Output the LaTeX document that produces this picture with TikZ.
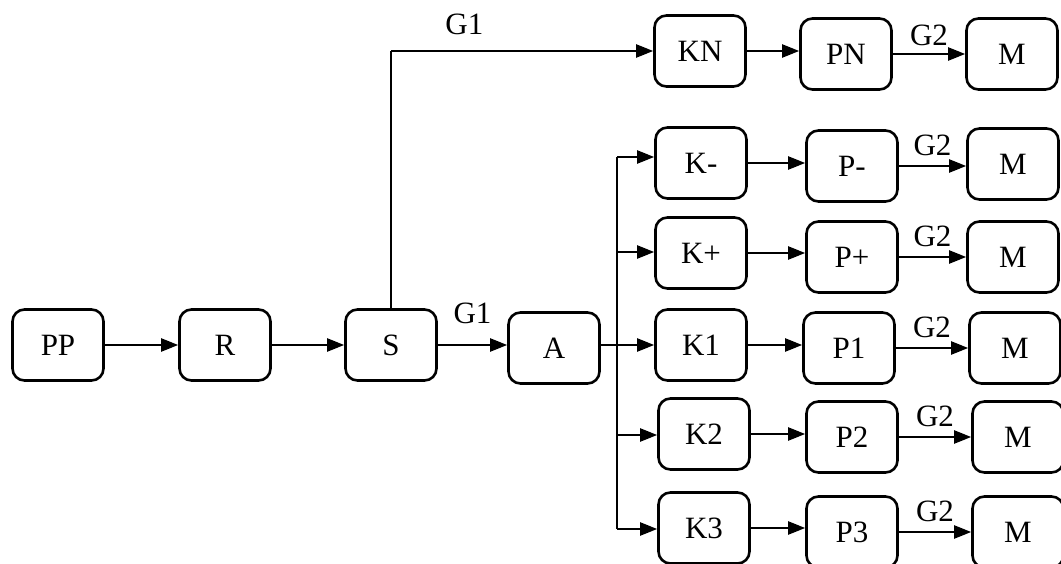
\documentclass[tikz,border=0pt]{standalone}
\usepackage{fontspec}
\setmainfont{Liberation Serif}
\usetikzlibrary{arrows.meta}
\tikzset{%
  box/.style={draw,rounded corners=12pt,line width=2.6pt,minimum width=91pt,minimum height=71pt,inner sep=2pt,font=\fontsize{31}{37}\selectfont},
  conn/.style={draw,line width=2.2pt,-{Triangle[length=17pt,width=13pt]}},
  bus/.style={draw,line width=1.3pt},
  lbl/.style={font=\fontsize{31}{37}\selectfont,inner sep=0pt}
}
\begin{document}
\begin{tikzpicture}[x=1pt,y=-1pt]
    \clip (0,0) rectangle (1061,564);
    % main line
    \node[box] (pp) at (58,345) {PP};
    \node[box] (r) at (225,345) {R};
    \node[box] (s) at (391,345) {S};
    \node[box] (a) at (554,348) {A};
    % top branch
    \node[box] (kn) at (700,51) {KN};
    \node[box] (pn) at (846,54) {PN};
    \node[box] (m_0) at (1012,54) {M};
    % K column
    \node[box] (km) at (701,163) {K-};
    \node[box] (kp) at (701,253) {K+};
    \node[box] (k_1) at (701,345) {K1};
    \node[box] (k_2) at (704,434) {K2};
    \node[box] (k_3) at (704,528) {K3};
    % P column
    \node[box] (pm) at (852,166) {P-};
    \node[box] (ppl) at (852,257) {P+};
    \node[box] (p_1) at (849,348) {P1};
    \node[box] (p_2) at (852,437) {P2};
    \node[box] (p_3) at (852,532) {P3};
    % M column
    \node[box] (m_1) at (1013,164) {M};
    \node[box] (m_2) at (1013,257) {M};
    \node[box] (m_3) at (1015,348) {M};
    \node[box] (m_4) at (1018,437) {M};
    \node[box] (m_5) at (1018,532) {M};

    \draw[conn] (pp) -- (pp -| r.west);
    \draw[conn] (r) -- (r -| s.west);
    \draw[conn] (s) -- node[lbl,above=20pt]{G1} (s -| a.west);
    \coordinate (up) at (s.north |- kn);
    \draw[bus] (s.north) -- (up);
    \draw[conn] (up) -- node[lbl,pos=0.28,above=15pt]{G1} (kn);
    \draw[conn] (kn) -- (kn -| pn.west);
    \draw[conn] (pn) -- node[lbl,above=7pt]{G2} (pn -| m_0.west);

    % branches from A
    \coordinate (j_1) at (617,157);
    \coordinate (j_2) at (617,252);
    \coordinate (j_3) at (617,435);
    \coordinate (j_4) at (617,529);
    \draw[bus] (j_1) -- (j_4);
    \draw[conn] (a.east |- k_1) -- (k_1.west);
    \draw[conn] (j_1) -- (j_1 -| km.west);
    \draw[conn] (j_2) -- (j_2 -| kp.west);
    \draw[conn] (j_3) -- (j_3 -| k_2.west);
    \draw[conn] (j_4) -- (j_4 -| k_3.west);

    \foreach \k/\p/\m in {km/pm/m_1,kp/ppl/m_2,k_1/p_1/m_3,k_2/p_2/m_4,k_3/p_3/m_5}{
      \draw[conn] (\k) -- (\k -| \p.west);
      \draw[conn] (\p) -- node[lbl,above=9pt]{G2} (\p -| \m.west);
    }
  \end{tikzpicture}
\end{document}
